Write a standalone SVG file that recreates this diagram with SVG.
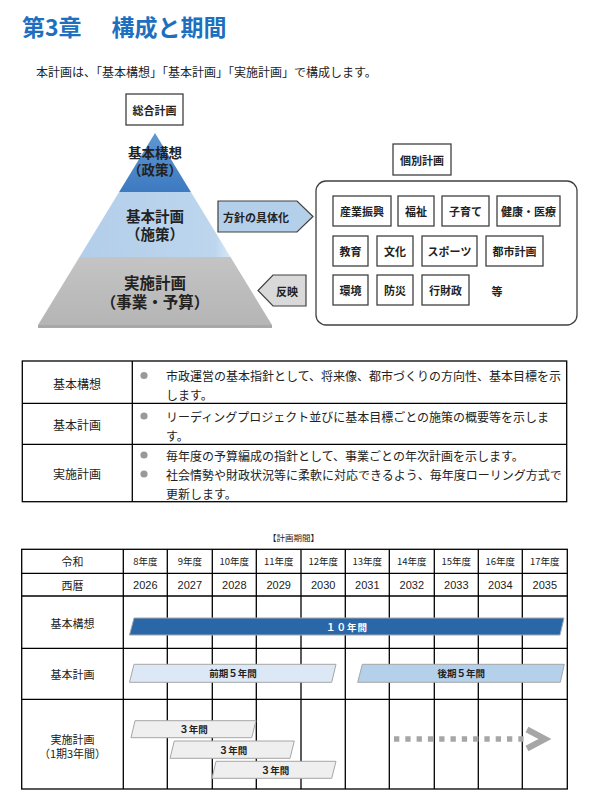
<svg xmlns="http://www.w3.org/2000/svg" width="599" height="804" viewBox="0 0 599 804">
<style>
text{font-family:"Noto Sans CJK JP","Noto Sans",sans-serif;fill:#222;}
.c{text-anchor:middle;dominant-baseline:central;}
.b{font-weight:bold;}
.box{fill:#fff;stroke:#404040;stroke-width:1.3;}
.grid{stroke:#000;stroke-width:1.3;fill:none;}
.t11{font-size:11px;}
.t12{font-size:12px;}
.yr{font-size:9.5px;}
.num{font-size:11px;font-family:"Liberation Sans",Arial,sans-serif;}
.bar{stroke:#A6A6A6;stroke-width:1;}
.bl{font-size:9.5px;font-weight:bold;}
</style>
<defs>
<linearGradient id="gTop" x1="0" y1="0" x2="0" y2="1"><stop offset="0" stop-color="#5F97D3"/><stop offset="1" stop-color="#3D7AC0"/></linearGradient>
<linearGradient id="gMid" x1="0" y1="0" x2="1" y2="0"><stop offset="0" stop-color="#B3CEEA"/><stop offset="0.9" stop-color="#BDD6EE"/><stop offset="1" stop-color="#D6E8F8"/></linearGradient>
<linearGradient id="gBot" x1="0" y1="0" x2="0" y2="1"><stop offset="0" stop-color="#C4C4C4"/><stop offset="1" stop-color="#B5B5B5"/></linearGradient>
</defs>
<rect width="599" height="804" fill="#fff"/>

<g id="title">
<text x="22" y="36" style="font-size:23px;font-weight:bold;fill:#1E6FC0">第3章</text>
<text x="111.5" y="36" style="font-size:23px;font-weight:bold;fill:#1E6FC0">構成と期間</text>
<text x="36" y="77" class="t12">本計画は、「基本構想」「基本計画」「実施計画」で構成します。</text>
</g>

<g id="pyramid">
<polygon points="155,133 190.9,192 119.1,192" fill="url(#gTop)"/>
<polygon points="119.1,192 190.9,192 230.5,257 79.5,257" fill="url(#gMid)"/>
<polygon points="79.5,257 230.5,257 272,325 38,325" fill="url(#gBot)"/>
<rect x="38" y="325" width="234" height="3" fill="#A8A8A8"/>
<text class="c b" style="font-size:13.5px"><tspan x="155" y="152">基本構想</tspan><tspan x="155" y="169">（政策）</tspan></text>
<text class="c b" style="font-size:14.5px"><tspan x="155" y="215">基本計画</tspan><tspan x="155" y="233">（施策）</tspan></text>
<text class="c b" style="font-size:15.5px"><tspan x="155" y="282">実施計画</tspan><tspan x="155" y="300.5">（事業・予算）</tspan></text>
</g>

<g id="sogo">
<rect x="126" y="94" width="57" height="31" class="box"/>
<text x="154.5" y="109.5" class="c b t11">総合計画</text>
</g>

<g id="kobetsu">
<rect x="393" y="144" width="58" height="31" class="box"/>
<text x="422" y="159.5" class="c b t11">個別計画</text>
</g>

<g id="arrow-hoshin">
<polygon points="218,201 297,201 313,216.5 297,232 218,232" fill="#B4CFEA" stroke="#404040" stroke-width="1.2"/>
<text x="256" y="216.5" class="c b t11">方針の具体化</text>
</g>

<g id="arrow-hanei">
<polygon points="306,275 273,275 258,290.5 273,306 306,306" fill="#D9D9D9" stroke="#404040" stroke-width="1.2"/>
<text x="287" y="290.5" class="c b t11">反映</text>
</g>

<g id="container">
<rect x="316" y="181" width="261" height="144" rx="10" ry="10" class="box"/>
</g>
<g id="n-sangyo"><rect x="333" y="196" width="58" height="30" class="box"/><text x="362" y="211" class="c b t11">産業振興</text></g>
<g id="n-fukushi"><rect x="398" y="196" width="36" height="30" class="box"/><text x="416" y="211" class="c b t11">福祉</text></g>
<g id="n-kosodate"><rect x="442" y="196" width="47" height="30" class="box"/><text x="465.5" y="211" class="c b t11">子育て</text></g>
<g id="n-kenko"><rect x="497" y="196" width="63" height="30" class="box"/><text x="528.5" y="211" class="c b t11">健康・医療</text></g>
<g id="n-kyoiku"><rect x="333" y="236" width="35" height="30" class="box"/><text x="350.5" y="251" class="c b t11">教育</text></g>
<g id="n-bunka"><rect x="377" y="236" width="36" height="30" class="box"/><text x="395" y="251" class="c b t11">文化</text></g>
<g id="n-sports"><rect x="422" y="236" width="55" height="30" class="box"/><text x="449.5" y="251" class="c b t11">スポーツ</text></g>
<g id="n-toshi"><rect x="486" y="236" width="57" height="30" class="box"/><text x="514.5" y="251" class="c b t11">都市計画</text></g>
<g id="n-kankyo"><rect x="333" y="275" width="35" height="30" class="box"/><text x="350.5" y="290" class="c b t11">環境</text></g>
<g id="n-bosai"><rect x="377" y="275" width="36" height="30" class="box"/><text x="395" y="290" class="c b t11">防災</text></g>
<g id="n-zaisei"><rect x="422" y="275" width="47" height="30" class="box"/><text x="445.5" y="290" class="c b t11">行財政</text></g>
<g id="n-tou"><text x="497" y="291" class="c b t11">等</text></g>

<g id="table1">
<rect x="22.3" y="361" width="544.4" height="140.7" class="grid"/>
<line x1="22.3" y1="403.3" x2="566.7" y2="403.3" class="grid"/>
<line x1="22.3" y1="444.3" x2="566.7" y2="444.3" class="grid"/>
<line x1="132.3" y1="361" x2="132.3" y2="501.7" class="grid"/>
<text x="77" y="383" class="c t12">基本構想</text>
<text x="77" y="424" class="c t12">基本計画</text>
<text x="77" y="473" class="c t12">実施計画</text>
<g fill="#999">
<circle cx="144" cy="375.5" r="3.6"/>
<circle cx="144" cy="416" r="3.6"/>
<circle cx="144" cy="455" r="3.6"/>
<circle cx="144" cy="474" r="3.6"/>
</g>
<text x="166" y="375.7" class="t12" dominant-baseline="central">市政運営の基本指針として、将来像、都市づくりの方向性、基本目標を示</text>
<text x="166" y="394.3" class="t12" dominant-baseline="central">します。</text>
<text x="166" y="416" class="t12" dominant-baseline="central">リーディングプロジェクト並びに基本目標ごとの施策の概要等を示しま</text>
<text x="166" y="435" class="t12" dominant-baseline="central">す。</text>
<text x="166" y="455" class="t12" dominant-baseline="central">毎年度の予算編成の指針として、事業ごとの年次計画を示します。</text>
<text x="166" y="474" class="t12" dominant-baseline="central">社会情勢や財政状況等に柔軟に対応できるよう、毎年度ローリング方式で</text>
<text x="166" y="493.3" class="t12" dominant-baseline="central">更新します。</text>
</g>

<g id="chart">
<text x="293.5" y="537" class="c" style="font-size:8.5px">【計画期間】</text>
<rect x="21.7" y="549.3" width="545.6" height="239.7" class="grid"/>
<g class="grid">
<line x1="21.7" y1="573.3" x2="567.3" y2="573.3"/>
<line x1="21.7" y1="596" x2="567.3" y2="596"/>
<line x1="21.7" y1="648.3" x2="567.3" y2="648.3"/>
<line x1="21.7" y1="699.3" x2="567.3" y2="699.3"/>
<line x1="123.3" y1="549.3" x2="123.3" y2="789"/>
<line x1="167.3" y1="549.3" x2="167.3" y2="789"/>
<line x1="212.3" y1="549.3" x2="212.3" y2="789"/>
<line x1="256.3" y1="549.3" x2="256.3" y2="789"/>
<line x1="301" y1="549.3" x2="301" y2="789"/>
<line x1="345.3" y1="549.3" x2="345.3" y2="789"/>
<line x1="389.3" y1="549.3" x2="389.3" y2="789"/>
<line x1="434.3" y1="549.3" x2="434.3" y2="789"/>
<line x1="478.3" y1="549.3" x2="478.3" y2="789"/>
<line x1="522.3" y1="549.3" x2="522.3" y2="789"/>
</g>
<text x="72.5" y="561.3" class="c t11">令和</text>
<text x="72.5" y="584.6" class="c t11">西暦</text>
<text x="145.3" y="561.3" class="c yr">8年度</text>
<text x="189.8" y="561.3" class="c yr">9年度</text>
<text x="234.3" y="561.3" class="c yr">10年度</text>
<text x="278.7" y="561.3" class="c yr">11年度</text>
<text x="323.2" y="561.3" class="c yr">12年度</text>
<text x="367.3" y="561.3" class="c yr">13年度</text>
<text x="411.8" y="561.3" class="c yr">14年度</text>
<text x="456.3" y="561.3" class="c yr">15年度</text>
<text x="500.3" y="561.3" class="c yr">16年度</text>
<text x="544.8" y="561.3" class="c yr">17年度</text>
<text x="145.3" y="584.6" class="c num">2026</text>
<text x="189.8" y="584.6" class="c num">2027</text>
<text x="234.3" y="584.6" class="c num">2028</text>
<text x="278.7" y="584.6" class="c num">2029</text>
<text x="323.2" y="584.6" class="c num">2030</text>
<text x="367.3" y="584.6" class="c num">2031</text>
<text x="411.8" y="584.6" class="c num">2032</text>
<text x="456.3" y="584.6" class="c num">2033</text>
<text x="500.3" y="584.6" class="c num">2034</text>
<text x="544.8" y="584.6" class="c num">2035</text>
<text x="72.5" y="623" class="c t11">基本構想</text>
<text x="72.5" y="674" class="c t11">基本計画</text>
<text class="c t11"><tspan x="72.5" y="738.5">実施計画</tspan><tspan x="72.5" y="752.5">（1期3年間）</tspan></text>

<polygon points="134,618 564,618 560,635 129.5,635" fill="#2A67A8" class="bar"/>
<text x="347" y="626.5" class="c bl" style="fill:#fff;letter-spacing:1px">１０年間</text>

<polygon points="134,664.3 336,664.3 331.7,682.3 129.5,682.3" fill="#DCE8F5" class="bar"/>
<text x="233" y="673.3" class="c bl">前期５年間</text>
<polygon points="362.3,664.3 564.3,664.3 560.3,682.3 357.7,682.3" fill="#B4D0EA" class="bar"/>
<text x="461.3" y="673.3" class="c bl">後期５年間</text>

<polygon points="135,720.7 256,720.7 251.7,737.7 131,737.7" fill="#EFEFEF" class="bar"/>
<text x="193.5" y="729.2" class="c bl">３年間</text>
<polygon points="174.3,741 294.3,741 290,758.3 170,758.3" fill="#EFEFEF" class="bar"/>
<text x="233" y="749.7" class="c bl">３年間</text>
<polygon points="216,761.3 336,761.3 331.7,778.3 212,778.3" fill="#EFEFEF" class="bar"/>
<text x="275" y="769.8" class="c bl">３年間</text>

<line x1="394" y1="739" x2="528" y2="739" stroke="#A6A6A6" stroke-width="5.3" stroke-dasharray="5.3 6"/>
<polyline points="527,729.5 545,739 527,748.5" fill="none" stroke="#A6A6A6" stroke-width="6" stroke-linejoin="miter"/>
</g>
</svg>
